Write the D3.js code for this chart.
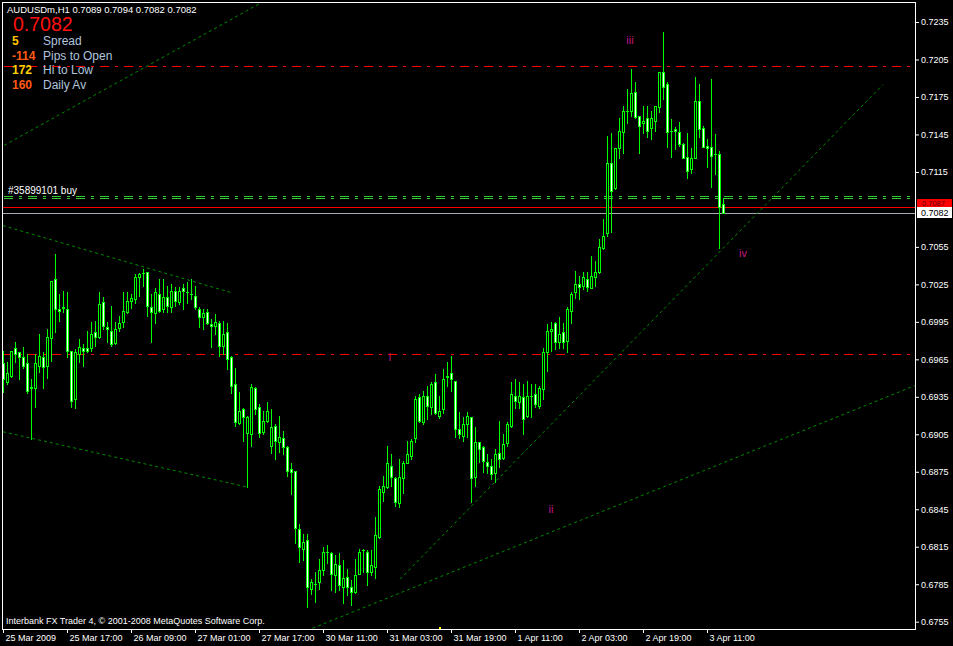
<!DOCTYPE html>
<html><head><meta charset="utf-8">
<script src="https://cdn.jsdelivr.net/npm/d3@7"></script>
<style>html,body{margin:0;padding:0;background:#000;overflow:hidden}text{font-family:"Liberation Sans",Arial,sans-serif}</style>
</head><body><svg id="c" width="953" height="646"></svg>
<script>
// ---- DATA ----
const symbol = "AUDUSDm,H1";
const opens = [0.6962,0.6947,0.6952,0.6974,0.6971,0.6967,0.6962,0.6942,0.6942,0.6960,0.6967,0.6960,0.6982,0.7029,0.7005,0.7006,0.7005,0.6972,0.6933,0.6969,0.6974,0.6974,0.6974,0.6987,0.6983,0.7011,0.6991,0.6988,0.6978,0.6990,0.6995,0.7003,0.7012,0.7013,0.7031,0.7034,0.7035,0.7007,0.7002,0.7017,0.7005,0.7015,0.7007,0.7020,0.7011,0.7022,0.7019,0.7017,0.7016,0.7005,0.6999,0.7003,0.6993,0.6992,0.6994,0.6976,0.6987,0.6967,0.6945,0.6914,0.6925,0.6906,0.6905,0.6942,0.6927,0.6907,0.6916,0.6896,0.6912,0.6899,0.6902,0.6895,0.6877,0.6876,0.6829,0.6813,0.6820,0.6781,0.6785,0.6787,0.6796,0.6811,0.6810,0.6792,0.6800,0.6783,0.6791,0.6783,0.6779,0.6793,0.6812,0.6811,0.6795,0.6799,0.6823,0.6859,0.6863,0.6880,0.6870,0.6850,0.6870,0.6882,0.6888,0.6902,0.6935,0.6915,0.6936,0.6927,0.6947,0.6920,0.6925,0.6951,0.6954,0.6948,0.6909,0.6904,0.6913,0.6919,0.6871,0.6899,0.6895,0.6883,0.6880,0.6874,0.6890,0.6886,0.6898,0.6912,0.6936,0.6931,0.6935,0.6920,0.6936,0.6937,0.6928,0.6941,0.6971,0.6988,0.6994,0.6979,0.6987,0.6980,0.7004,0.7019,0.7025,0.7024,0.7029,0.7022,0.7031,0.7035,0.7054,0.7066,0.7122,0.7102,0.7134,0.7147,0.7164,0.7164,0.7179,0.7160,0.7154,0.7158,0.7150,0.7156,0.7167,0.7195,0.7185,0.7148,0.7149,0.7147,0.7137,0.7127,0.7117,0.7126,0.7172,0.7150,0.7136,0.7135,0.7129,0.7129,0.7089];
const highs = [0.6972,0.6963,0.6972,0.6979,0.6971,0.6975,0.6969,0.6949,0.6969,0.6985,0.6971,0.6989,0.7028,0.7049,0.7017,0.7020,0.7019,0.6972,0.6973,0.6981,0.6977,0.6988,0.6995,0.6996,0.7019,0.7015,0.6995,0.7008,0.6995,0.7000,0.7019,0.7019,0.7017,0.7033,0.7034,0.7037,0.7035,0.7017,0.7022,0.7029,0.7029,0.7024,0.7025,0.7023,0.7023,0.7025,0.7027,0.7029,0.7024,0.7007,0.7005,0.7005,0.6997,0.7001,0.6996,0.6996,0.6994,0.6968,0.6958,0.6939,0.6926,0.6920,0.6945,0.6943,0.6929,0.6924,0.6931,0.6925,0.6913,0.6920,0.6908,0.6896,0.6882,0.6876,0.6833,0.6825,0.6825,0.6789,0.6795,0.6805,0.6815,0.6816,0.6811,0.6808,0.6810,0.6804,0.6797,0.6788,0.6805,0.6813,0.6813,0.6812,0.6812,0.6839,0.6864,0.6872,0.6896,0.6889,0.6871,0.6885,0.6884,0.6900,0.6901,0.6936,0.6937,0.6940,0.6944,0.6947,0.6953,0.6936,0.6957,0.6963,0.6968,0.6948,0.6923,0.6919,0.6923,0.6919,0.6911,0.6899,0.6896,0.6889,0.6885,0.6893,0.6916,0.6905,0.6915,0.6947,0.6949,0.6947,0.6945,0.6948,0.6945,0.6945,0.6944,0.6974,0.6993,0.6995,0.6995,0.6999,0.6994,0.7007,0.7019,0.7036,0.7032,0.7035,0.7035,0.7048,0.7044,0.7061,0.7077,0.7144,0.7146,0.7134,0.7158,0.7168,0.7181,0.7197,0.7187,0.7160,0.7168,0.7168,0.7164,0.7168,0.7195,0.7227,0.7187,0.7157,0.7151,0.7155,0.7138,0.7146,0.7134,0.7191,0.7185,0.7152,0.7141,0.7189,0.7145,0.7132,0.7094];
const lows = [0.6939,0.6945,0.6951,0.6963,0.6949,0.6958,0.6938,0.6901,0.6927,0.6955,0.6942,0.6950,0.6964,0.6987,0.6996,0.7003,0.6967,0.6927,0.6926,0.6963,0.6960,0.6971,0.6972,0.6976,0.6982,0.6989,0.6979,0.6976,0.6977,0.6988,0.6991,0.7002,0.7006,0.7010,0.7016,0.7024,0.7000,0.6979,0.6994,0.7003,0.7003,0.7003,0.7003,0.7008,0.7009,0.7005,0.7010,0.7013,0.7005,0.6991,0.6989,0.6993,0.6975,0.6985,0.6968,0.6969,0.6957,0.6938,0.6912,0.6913,0.6900,0.6863,0.6896,0.6921,0.6903,0.6905,0.6915,0.6890,0.6885,0.6891,0.6889,0.6872,0.6857,0.6818,0.6803,0.6804,0.6767,0.6777,0.6771,0.6781,0.6792,0.6802,0.6780,0.6779,0.6780,0.6770,0.6776,0.6768,0.6778,0.6793,0.6795,0.6784,0.6792,0.6790,0.6822,0.6852,0.6862,0.6864,0.6848,0.6847,0.6858,0.6882,0.6885,0.6899,0.6915,0.6913,0.6917,0.6921,0.6921,0.6918,0.6922,0.6944,0.6940,0.6903,0.6902,0.6900,0.6903,0.6851,0.6864,0.6883,0.6875,0.6874,0.6869,0.6867,0.6879,0.6885,0.6896,0.6911,0.6926,0.6926,0.6905,0.6919,0.6919,0.6927,0.6926,0.6933,0.6956,0.6972,0.6973,0.6974,0.6974,0.6971,0.6994,0.7014,0.7013,0.7021,0.7020,0.7022,0.7024,0.7034,0.7053,0.7064,0.7067,0.7101,0.7126,0.7130,0.7154,0.7160,0.7158,0.7130,0.7146,0.7143,0.7141,0.7148,0.7163,0.7173,0.7135,0.7127,0.7133,0.7136,0.7126,0.7110,0.7114,0.7126,0.7143,0.7135,0.7119,0.7103,0.7113,0.7054,0.7082];
const closes = [0.6949,0.6954,0.6972,0.6969,0.6967,0.6960,0.6940,0.6943,0.6962,0.6968,0.6959,0.6983,0.7028,0.7005,0.7004,0.7007,0.6972,0.6932,0.6971,0.6975,0.6972,0.6972,0.6985,0.6983,0.7009,0.6992,0.6989,0.6977,0.6989,0.6994,0.7004,0.7012,0.7014,0.7031,0.7033,0.7034,0.7008,0.7003,0.7019,0.7004,0.7015,0.7008,0.7020,0.7012,0.7020,0.7020,0.7019,0.7017,0.7007,0.6999,0.7002,0.6994,0.6992,0.6995,0.6976,0.6985,0.6965,0.6944,0.6915,0.6924,0.6919,0.6919,0.6943,0.6925,0.6906,0.6916,0.6924,0.6911,0.6900,0.6903,0.6895,0.6876,0.6875,0.6830,0.6815,0.6819,0.6783,0.6787,0.6785,0.6796,0.6811,0.6811,0.6793,0.6801,0.6784,0.6790,0.6783,0.6779,0.6792,0.6811,0.6812,0.6795,0.6800,0.6824,0.6861,0.6864,0.6882,0.6871,0.6851,0.6871,0.6882,0.6889,0.6900,0.6933,0.6916,0.6936,0.6928,0.6945,0.6922,0.6924,0.6949,0.6952,0.6949,0.6909,0.6905,0.6913,0.6920,0.6870,0.6899,0.6893,0.6884,0.6880,0.6873,0.6889,0.6885,0.6897,0.6913,0.6937,0.6932,0.6936,0.6917,0.6936,0.6936,0.6929,0.6942,0.6971,0.6988,0.6989,0.6979,0.6985,0.6979,0.7005,0.7017,0.7025,0.7023,0.7031,0.7023,0.7032,0.7035,0.7055,0.7064,0.7122,0.7100,0.7134,0.7148,0.7164,0.7164,0.7178,0.7159,0.7152,0.7156,0.7148,0.7158,0.7168,0.7195,0.7183,0.7147,0.7148,0.7148,0.7137,0.7126,0.7116,0.7126,0.7172,0.7149,0.7135,0.7134,0.7128,0.7129,0.7087,0.7082];
const timeLabels = ["25 Mar 2009","25 Mar 17:00","26 Mar 09:00","27 Mar 01:00","27 Mar 17:00","30 Mar 11:00","31 Mar 03:00","31 Mar 19:00","1 Apr 11:00","2 Apr 03:00","2 Apr 19:00","3 Apr 11:00"];
const priceTicks = [0.7235,0.7205,0.7175,0.7145,0.7115,0.7085,0.7055,0.7025,0.6995,0.6965,0.6935,0.6905,0.6875,0.6845,0.6815,0.6785,0.6755];
const shownPriceTicks = priceTicks.filter(p => p !== 0.7085);
const askPrice = 0.7087;
const redLevels = [0.7200, 0.6969];
const orderLevel = 0.7095;
const orderLabel = "#35899101 buy";
// trendlines: [startBar, startPrice, endBar, endPrice]
const trendStartBar = [-1, 0, 0, 76, 99.25];
const trendStartPrice = [0.7134, 0.7072, 0.6907, 0.6748, 0.6789];
const trendEndBar = [66, 57.5, 60.75, 228, 220];
const trendEndPrice = [0.7253, 0.7018, 0.6863, 0.6944, 0.7185];
const waveLabels = ["i", "ii", "iii", "iv"];
const waveBar = [96.75, 137, 156.75, 185];
const wavePrice = [0.6964, 0.6842, 0.7217, 0.7047];
const infoValues = ["5", "-114", "172", "160"];
const infoNames = ["Spread", "Pips to Open", "Hi to Low", "Daily Av"];
const infoColors = ["#ffc400", "#ff5a14", "#ffd000", "#ff5a14"];
const credit = "Interbank FX Trader 4, \u00a9 2001-2008 MetaQuotes Software Corp.";

// ---- CHART ----
const svg = d3.select("#c");
svg.append("rect").attr("width", 953).attr("height", 646).attr("fill", "#000");
const L = 2, R = 915, T = 2, B = 629;
const x = d3.scaleLinear().domain([0, 228]).range([3, 915]);
const y = d3.scaleLinear().domain([0.6755, 0.7235]).range([621.7, 22]);
const N = opens.length;
const fmt = d3.format(".4f");
const lime = "#00ff00";

svg.append("defs").append("clipPath").attr("id", "clip")
  .append("rect").attr("x", L).attr("y", T).attr("width", R - L).attr("height", B - T);

// horizontal dash-dot red levels
svg.append("g").selectAll("line").data(redLevels).join("line")
  .attr("x1", L).attr("x2", R)
  .attr("y1", d => Math.round(y(d)) + 0.5).attr("y2", d => Math.round(y(d)) + 0.5)
  .attr("stroke", "#ff0000").attr("stroke-dasharray", "9,6,3,6").attr("stroke-dashoffset", -2);

// order line (double)
const oy = Math.round(y(orderLevel));
svg.append("g").selectAll("line").data([oy - 0.5, oy + 1.5]).join("line")
  .attr("x1", L).attr("x2", R).attr("y1", d => d).attr("y2", d => d)
  .attr("stroke", "#32cd32").attr("stroke-dasharray", "9,6,3,6").attr("stroke-dashoffset", -2);
svg.append("text").attr("x", 8).attr("y", oy - 3).attr("fill", "#fff").attr("font-size", 10).text(orderLabel);

// ask / bid lines
const bid = closes[N - 1];
svg.append("line").attr("x1", L).attr("x2", R).attr("y1", Math.round(y(askPrice)) + 0.5).attr("y2", Math.round(y(askPrice)) + 0.5).attr("stroke", "#ff0000");
svg.append("line").attr("x1", L).attr("x2", R).attr("y1", Math.round(y(bid)) + 0.5).attr("y2", Math.round(y(bid)) + 0.5).attr("stroke", "#a4acb8");

// trendlines
const tg = svg.append("g").attr("clip-path", "url(#clip)");
tg.selectAll("line").data(d3.range(trendStartBar.length)).join("line")
  .attr("x1", k => x(trendStartBar[k])).attr("y1", k => y(trendStartPrice[k]))
  .attr("x2", k => x(trendEndBar[k])).attr("y2", k => y(trendEndPrice[k]))
  .attr("stroke", "#008a00").attr("stroke-dasharray", "3,3");

// candles
const cg = svg.append("g").attr("shape-rendering", "crispEdges");
const idx = d3.range(N);
cg.selectAll("line.w").data(idx).join("line").attr("class", "w")
  .attr("x1", i => Math.round(x(i)) + 0.5).attr("x2", i => Math.round(x(i)) + 0.5)
  .attr("y1", i => Math.round(y(highs[i]))).attr("y2", i => Math.round(y(lows[i])) + 1)
  .attr("stroke", lime);
cg.selectAll("rect.b").data(idx.filter(i => Math.round(y(opens[i])) !== Math.round(y(closes[i])))).join("rect").attr("class", "b")
  .attr("x", i => Math.round(x(i)) - 0.5)
  .attr("y", i => Math.min(Math.round(y(opens[i])), Math.round(y(closes[i]))) + 0.5)
  .attr("width", 2)
  .attr("height", i => Math.abs(Math.round(y(opens[i])) - Math.round(y(closes[i]))))
  .attr("fill", i => closes[i] > opens[i] ? "#000" : "#fff")
  .attr("stroke", lime);
cg.selectAll("line.d").data(idx.filter(i => Math.round(y(opens[i])) === Math.round(y(closes[i])))).join("line").attr("class", "d")
  .attr("x1", i => Math.round(x(i)) - 1).attr("x2", i => Math.round(x(i)) + 2)
  .attr("y1", i => Math.round(y(closes[i])) + 0.5).attr("y2", i => Math.round(y(closes[i])) + 0.5)
  .attr("stroke", lime);

// wave labels
svg.append("g").selectAll("text").data(waveLabels).join("text")
  .attr("x", (d, k) => x(waveBar[k])).attr("y", (d, k) => y(wavePrice[k]))
  .attr("text-anchor", "middle").attr("fill", "#c71585").attr("font-size", 11).text(d => d);

// small yellow marker
svg.append("rect").attr("x", Math.round(x(109))).attr("y", B - 2).attr("width", 2).attr("height", 2).attr("fill", "#ffff00");

// frame
svg.append("rect").attr("x", L + 0.5).attr("y", T + 0.5).attr("width", R - L).attr("height", B - T)
  .attr("fill", "none").attr("stroke", "#fff").attr("shape-rendering", "crispEdges");

// axes
const yAxis = d3.axisRight(y).tickValues(shownPriceTicks).tickFormat(fmt).tickSize(4).tickPadding(2);
const ya = svg.append("g").attr("transform", `translate(${R},0)`).call(yAxis);
ya.select(".domain").remove();
ya.selectAll("line").attr("stroke", "#fff");
ya.selectAll("text").attr("fill", "#fff").attr("font-size", 9).attr("font-family", "Liberation Sans, Arial, sans-serif");

const xAxis = d3.axisBottom(x).tickValues(d3.range(0, N, 16)).tickFormat((d, k) => timeLabels[k]).tickSize(4).tickPadding(2);
const xa = svg.append("g").attr("transform", `translate(0,${B})`).call(xAxis);
xa.select(".domain").remove();
xa.selectAll("line").attr("stroke", "#fff");
xa.selectAll("text").attr("fill", "#fff").attr("font-size", 9).attr("text-anchor", "start").attr("x", 2)
  .attr("font-family", "Liberation Sans, Arial, sans-serif");

// price boxes on axis
svg.append("rect").attr("x", 917).attr("y", 199).attr("width", 35).attr("height", 8).attr("fill", "#ff0000");
svg.append("text").attr("x", 922).attr("y", 206).attr("fill", "#600000").attr("font-size", 7.5).text(fmt(askPrice));
svg.append("rect").attr("x", 917).attr("y", 207).attr("width", 35).attr("height", 11).attr("fill", "#fff");
svg.append("text").attr("x", 921).attr("y", 216).attr("fill", "#000").attr("font-size", 9).text(fmt(bid));

// header texts
svg.append("text").attr("x", 7).attr("y", 13).attr("fill", "#fff").attr("font-size", 9.5)
  .text(`${symbol}  ${fmt(opens[N-1])} ${fmt(highs[N-1])} ${fmt(lows[N-1])} ${fmt(closes[N-1])}`);
svg.append("text").attr("x", 13).attr("y", 31).attr("fill", "#ff1010").attr("font-size", 19.5).text(fmt(bid));
const info = svg.append("g");
infoValues.forEach((v, k) => {
  const by = 45 + k * 14.7;
  info.append("text").attr("x", 12).attr("y", by).attr("fill", infoColors[k]).attr("font-size", 12).attr("font-weight", "bold").text(v);
  info.append("text").attr("x", 43).attr("y", by).attr("fill", "#b0c4de").attr("font-size", 12).text(infoNames[k]);
});
svg.append("text").attr("x", 6).attr("y", 624).attr("fill", "#fff").attr("font-size", 9).text(credit);
</script></body></html>
